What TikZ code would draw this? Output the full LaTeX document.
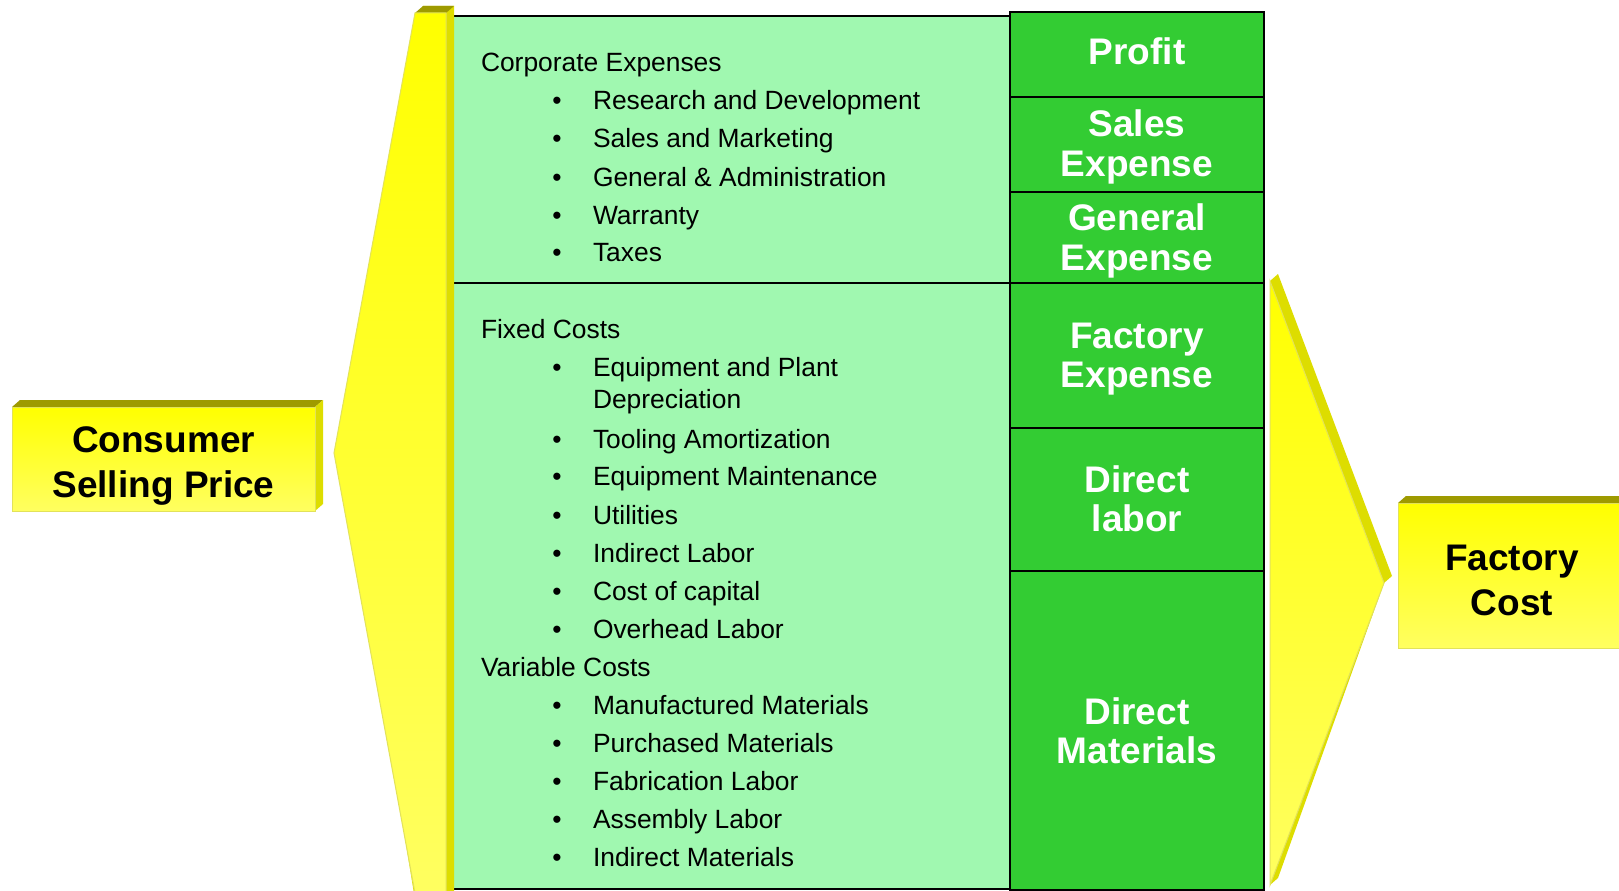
\documentclass[tikz,border=0pt]{standalone}
\usepackage{fontspec}
\setmainfont{Liberation Sans}
\definecolor{lgreen}{HTML}{A0F8B0}
\definecolor{dgreen}{HTML}{33CC33}
\definecolor{yelA}{HTML}{FFFF00}
\definecolor{yelB}{HTML}{FFFF60}
\definecolor{olivetop}{HTML}{9E9A00}
\definecolor{sidey}{HTML}{DDDD00}
\definecolor{edgey}{HTML}{E2E25A}
\tikzset{
  txt/.style={anchor=base west, inner sep=0pt, outer sep=0pt, font=\fontsize{26.4}{32}\selectfont},
  bul/.style={anchor=base, inner sep=0pt, outer sep=0pt, font=\fontsize{26.4}{32}\selectfont},
  lab/.style={anchor=base, inner sep=0pt, outer sep=0pt, text=white, font=\fontsize{37}{39.5}\selectfont\bfseries},
  ylab/.style={anchor=base, inner sep=0pt, outer sep=0pt, text=black, font=\fontsize{37}{45}\selectfont\bfseries},
  cell/.style={draw=black, line width=2.8pt, fill=dgreen, minimum width=254pt, inner sep=0pt, outer sep=0pt},
  frontface/.style={top color=yelA, bottom color=yelB, draw=edgey, line width=1pt},
  topface/.style={fill=olivetop},
  sideface/.style={fill=sidey},
  rule/.style={line width=2.8pt, draw=black},
}
\begin{document}
\begin{tikzpicture}[x=1pt,y=-1pt]
\useasboundingbox (0,0) rectangle (1619,891);
\clip (0,0) rectangle (1619,891);
\fill[white] (0,0) rectangle (1619,891);

% light green panel
\fill[lgreen] (453,16) rectangle (1010,889);
\coordinate (tl) at (453,16);
\coordinate (tr) at (1010,16);
\coordinate (ml) at (450,283);
\coordinate (mr) at (1010,283);
\coordinate (bl) at (450,889);
\coordinate (br) at (1010,889);
\draw[rule] (tl) -- (tr);
\draw[rule] (ml) -- (mr);
\draw[rule] (bl) -- (br);

% right column cells
\node[cell, minimum height=85pt]  (cprofit)  at (1137,54.5) {};
\node[cell, minimum height=95pt]  (csales)   at (1137,144.5) {};
\node[cell, minimum height=91pt]  (cgeneral) at (1137,237.5) {};
\node[cell, minimum height=145pt] (cfactory) at (1137,355.5) {};
\node[cell, minimum height=143pt] (clabor)   at (1137,499.5) {};
\node[cell, minimum height=319pt] (cmat)     at (1137,730.5) {};

\node[lab] (lprofit) at (1137,64.5) {Profit};
\node[lab] (lsales) at (1137,136.5) {\begin{tabular}[t]{@{}c@{}}Sales\\Expense\end{tabular}};
\node[lab] (lgeneral) at (1137,230.5) {\begin{tabular}[t]{@{}c@{}}General\\Expense\end{tabular}};
\node[lab] (lfactory) at (1137,348) {\begin{tabular}[t]{@{}c@{}}Factory\\Expense\end{tabular}};
\node[lab] (llabor) at (1137,492) {\begin{tabular}[t]{@{}c@{}}Direct\\labor\end{tabular}};
\node[lab] (lmat) at (1137,724) {\begin{tabular}[t]{@{}c@{}}Direct\\Materials\end{tabular}};

% left brace
\path[sideface] (423,6) -- (454,6) -- (454,900) -- (415,900) -- (342,446) -- cycle;
\path[topface] (415,13) -- (423,6) -- (454,6) -- (446,13) -- cycle;
\path[frontface] (415,13) -- (446,13) -- (446,893) -- (415,893) -- (334,453) -- cycle;

% right brace
\path[sideface] (1270,281) -- (1278,274) -- (1392,576) -- (1384,583) -- (1278,878) -- (1270,885) -- cycle;
\path[frontface] (1270,281) -- (1384,583) -- (1270,885) -- cycle;

% consumer selling price box
\path[topface] (12,407) -- (20,400) -- (323,400) -- (315,407) -- cycle;
\path[sideface] (315,407) -- (323,400) -- (323,504) -- (315,511) -- cycle;
\path[frontface] (12,407) rectangle (315,511);
\node[ylab] (consumer) at (163.5,452.5) {\begin{tabular}[t]{@{}c@{}}Consumer\\Selling Price\end{tabular}};

% factory cost box
\path[topface] (1398,503) -- (1406,496) -- (1650,496) -- (1642,503) -- cycle;
\path[frontface] (1398,503) rectangle (1650,648);
\node[ylab] (factorycost) at (1512,570.5) {\begin{tabular}[t]{@{}c@{}}Factory\\Cost\end{tabular}};

% corporate expenses
\node[txt] (hcorp) at (481,71) {Corporate Expenses};
\foreach \y/\t/\n in {109/Research and Development/a, 147.5/Sales and Marketing/b, 186/General \& Administration/c, 224/Warranty/d, 261/Taxes/e}{
  \node[bul] (bc\n) at (557,\y) {•};
  \node[txt] (ic\n) at (593,\y) {\t};
}

% fixed costs
\node[txt] (hfixed) at (481,338) {Fixed Costs};
\node[bul] (bfa) at (557,376) {•};
\node[txt] (ifa) at (593,376) {\begin{tabular}[t]{@{}l@{}}Equipment and Plant\\Depreciation\end{tabular}};
\foreach \y/\t/\n in {448/Tooling Amortization/b, 485/Equipment Maintenance/c, 524/Utilities/d, 562/Indirect Labor/e, 600/Cost of capital/f, 638/Overhead Labor/g}{
  \node[bul] (bf\n) at (557,\y) {•};
  \node[txt] (if\n) at (593,\y) {\t};
}

% variable costs
\node[txt] (hvar) at (481,676) {Variable Costs};
\foreach \y/\t/\n in {714/Manufactured Materials/a, 752/Purchased Materials/b, 790/Fabrication Labor/c, 828/Assembly Labor/d, 866/Indirect Materials/e}{
  \node[bul] (bv\n) at (557,\y) {•};
  \node[txt] (iv\n) at (593,\y) {\t};
}
\end{tikzpicture}
\end{document}
